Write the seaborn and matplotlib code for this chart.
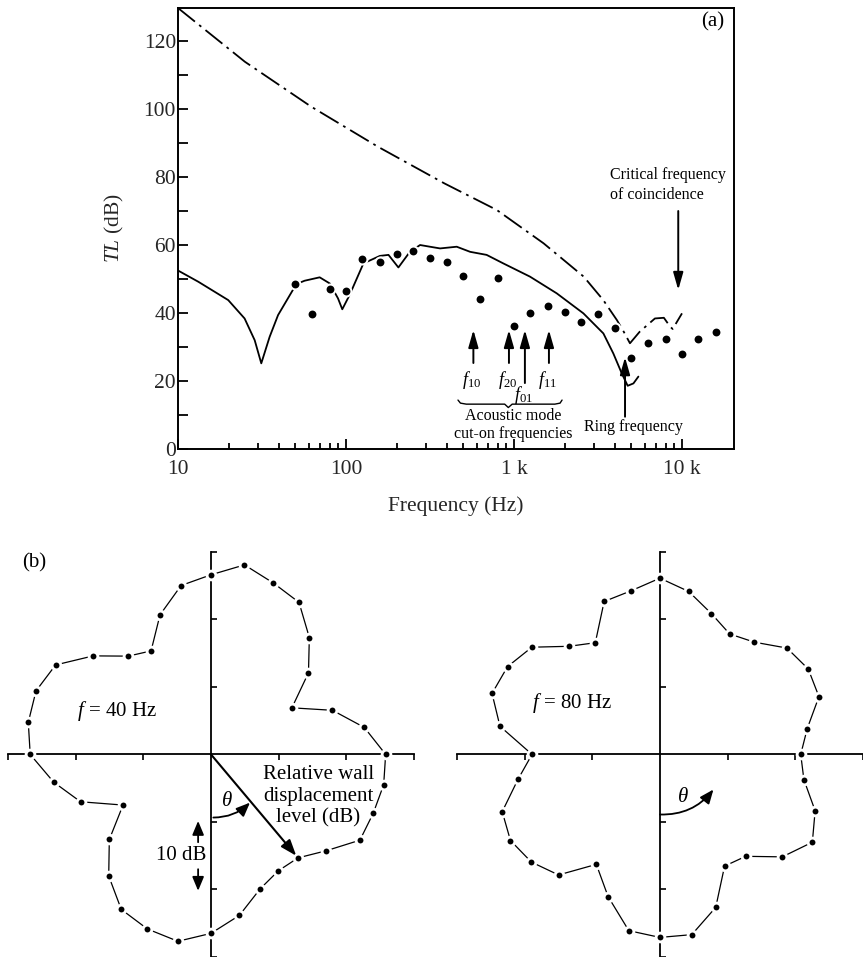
import numpy as np
import pandas as pd
import matplotlib
matplotlib.use("Agg")
import matplotlib.pyplot as plt
import seaborn as sns
from matplotlib.ticker import FixedLocator, NullFormatter

# ----------------------------
# (a) transmission loss data
# ----------------------------
freq_theory = [10, 13.2, 19.9, 24.9, 28.6, 31.3, 35.1, 39.4, 50.6, 56.7, 69.7, 80, 89.6, 95,
               105, 127, 159, 179, 205, 240, 276, 316, 363, 456, 548, 687, 863, 1245, 1795,
               2589, 3404, 3902, 4375, 4750, 5140, 5500]
tl_theory = [52.5, 49.2, 43.8, 38.4, 32.0, 25.2, 33.0, 39.4, 48.5, 49.5, 50.5, 48.7, 44.3, 41.1,
             45.3, 54.6, 56.8, 57.1, 53.4, 58.0, 60.0, 59.5, 59.0, 59.5, 58.0, 57.1, 54.6, 50.7,
             45.8, 39.9, 34.0, 28.1, 22.3, 18.6, 19.3, 21.3]

freq_mass = [10, 25, 62, 155, 386, 790, 1500, 2600, 3400, 4100, 4500, 4900, 5600, 6900,
             7800, 8500, 8800, 10000]
tl_mass = [129.7, 113.9, 100.7, 88.9, 78.1, 70.3, 60.5, 50.7, 43.8, 37.9, 34.5, 31.1, 34.5,
           38.4, 38.6, 36.0, 35.3, 39.9]

freq_meas = [50, 63, 80, 100, 125, 160, 200, 250, 315, 400, 500, 630, 800, 1000, 1250, 1600,
             2000, 2500, 3150, 4000, 5000, 6300, 8000, 10000, 12500, 16000]
tl_meas = [48.5, 39.6, 47.1, 46.5, 55.9, 55.1, 57.4, 58.2, 56.3, 55.1, 51.0, 44.1, 50.2, 36.3,
           39.9, 42.2, 40.2, 37.3, 39.6, 35.7, 26.9, 31.3, 32.3, 27.9, 32.3, 34.5]

cuton_freqs = [573, 933, 1161, 1614]
cuton_labels = [r"$f_{10}$", r"$f_{20}$", r"$f_{01}$", r"$f_{11}$"]
ring_freq = 4580
crit_freq = 9500

# ----------------------------
# (b) wall displacement patterns, theta from bottom, counter-clockwise
# ----------------------------
theta_deg = list(range(0, 360, 10))
level_40 = [26.5, 24.2, 21.2, 19.9, 20.0, 22.2, 25.4, 25.5, 25.9, 25.8, 23.0, 19.1, 13.8, 18.8,
            22.6, 26.0, 27.0, 28.5, 26.6, 25.4, 22.0, 17.7, 19.0, 22.7, 26.5, 27.5, 27.4, 26.7,
            23.6, 20.5, 15.0, 19.6, 23.5, 26.5, 27.5, 28.1]
level_80 = [27.1, 27.1, 24.1, 19.1, 19.7, 23.6, 26.0, 24.4, 21.6, 20.8, 22.1, 25.0, 25.3, 24.5,
            21.7, 20.6, 22.2, 24.5, 26.1, 24.6, 24.1, 19.1, 20.9, 24.7, 26.0, 26.4, 24.0, 18.9,
            21.3, 24.8, 25.5, 24.8, 23.3, 18.8, 22.4, 26.5]

sns.set_style("ticks")
plt.rcParams["font.family"] = ["Liberation Serif", "DejaVu Serif"]
plt.rcParams["mathtext.fontset"] = "custom"
plt.rcParams["mathtext.rm"] = "Liberation Serif"
plt.rcParams["mathtext.it"] = "Liberation Serif:italic"
plt.rcParams["mathtext.bf"] = "Liberation Serif:bold"
plt.rcParams["text.color"] = "black"

fig = plt.figure(figsize=(8.63, 9.57), dpi=100)

# ----------------------------
# top panel
# ----------------------------
ax = fig.add_axes([0.2063, 0.5308, 0.6443, 0.4608])
ax.set_xscale("log")

sns.lineplot(x=freq_mass, y=tl_mass, ax=ax, color="k", lw=1.3,
             linestyle=(0, (12, 3, 1.5, 3)), estimator=None)
sns.lineplot(x=freq_theory, y=tl_theory, ax=ax, color="k", lw=1.3, estimator=None)
sns.scatterplot(x=freq_meas, y=tl_meas, ax=ax, color="white", s=75, linewidth=0, zorder=3)
sns.scatterplot(x=freq_meas, y=tl_meas, ax=ax, color="k", s=32, linewidth=0, zorder=4)

ax.set_xlim(10, 10 ** 4.31)
ax.set_ylim(0, 129.7)
ax.xaxis.set_major_locator(FixedLocator([10, 100, 1000, 10000]))
ax.set_xticklabels(["10", "100", "1 k", "10 k"])
minors = [m * d for d in (10, 100, 1000) for m in range(2, 10)]
ax.xaxis.set_minor_locator(FixedLocator(minors))
ax.xaxis.set_minor_formatter(NullFormatter())
ax.set_yticks(range(0, 121, 20))
ax.yaxis.set_minor_locator(FixedLocator(range(10, 121, 20)))
ax.tick_params(which="both", direction="in", top=False, right=False, width=1.3,
               labelsize=15.5, color="k")
ax.tick_params(axis="x", which="major", length=7, pad=8)
ax.tick_params(axis="x", which="minor", length=4.5)
ax.tick_params(axis="y", which="both", length=7, pad=1.5)
for s in ax.spines.values():
    s.set_linewidth(1.4)
    s.set_color("k")

ax.set_xlabel("Frequency (Hz)", fontsize=15.5)
ax.set_ylabel(r"$TL$ (dB)", fontsize=15.5)
ax.xaxis.set_label_coords(0.5, -0.108)
ax.yaxis.set_label_coords(-0.094, 0.5)

ax.text(0.962, 0.968, "(a)", transform=ax.transAxes, fontsize=15, ha="center", va="center")

arrow_kw = dict(arrowstyle="-|>,head_length=0.7,head_width=0.2", color="k", lw=1.4,
                mutation_scale=15, shrinkA=0, shrinkB=0)
for f, lab in zip(cuton_freqs, cuton_labels):
    tail = 19.4 if lab == r"$f_{01}$" else 25.3
    ax.annotate("", xy=(f, 35.0), xytext=(f, tail), arrowprops=arrow_kw)
    ly = 16.0 if lab == r"$f_{01}$" else 20.3
    ax.text(f * 0.98, ly, lab, fontsize=13, ha="center", va="center")

brace_f = [464, 480, 520, 880, 925, 975, 1750, 1880, 1932]
brace_y = [14.4, 13.5, 13.2, 13.2, 12.2, 13.2, 13.2, 13.5, 14.4]
ax.plot(brace_f, brace_y, color="k", lw=1.0)
ax.text(986, 9.7, "Acoustic mode", fontsize=11.5, ha="center", va="center")
ax.text(986, 4.4, "cut-on frequencies", fontsize=11.5, ha="center", va="center")

ax.annotate("", xy=(ring_freq, 27.0), xytext=(ring_freq, 9.5), arrowprops=arrow_kw)
ax.text(5110, 6.5, "Ring frequency", fontsize=11.5, ha="center", va="center")

ax.annotate("", xy=(crit_freq, 46.8), xytext=(crit_freq, 70.0), arrowprops=arrow_kw)
ax.text(3728, 80.6, "Critical frequency", fontsize=11.5, ha="left", va="center")
ax.text(3728, 74.7, "of coincidence", fontsize=11.5, ha="left", va="center")

# ----------------------------
# bottom panels
# ----------------------------
def pattern_df(levels):
    th = np.deg2rad(theta_deg + [theta_deg[0]])
    r = np.array(levels + [levels[0]])
    return pd.DataFrame({"x": r * np.sin(th), "y": -r * np.cos(th)})


axl = fig.add_axes([0.00127, 0.0, 0.4864, 0.4269])
axr = fig.add_axes([0.5255, 0.0, 0.4745, 0.4269])
axl.set_xlim(-31, 31)
axr.set_xlim(-30.5, 30.0)
for a in (axl, axr):
    a.set_ylim(-29.84, 30.5)
    a.patch.set_alpha(0)
    a.spines["top"].set_visible(False)
    a.spines["right"].set_visible(False)
    a.spines["left"].set_position(("data", 0))
    a.spines["bottom"].set_position(("data", 0))
    a.spines["left"].set_bounds(-30, 30)
    a.spines["bottom"].set_bounds(-30, 30)
    for s in ("left", "bottom"):
        a.spines[s].set_linewidth(1.3)
        a.spines[s].set_color("k")
    a.set_xticks([-30, -20, -10, 10, 20, 30])
    a.set_yticks([-30, -20, -10, 10, 20, 30])
    a.tick_params(axis="x", direction="out", length=4.5, width=1.2, labelbottom=False, color="k")
    a.tick_params(axis="y", direction="in", length=4.5, width=1.2, labelleft=False, color="k")

for a, lv in ((axl, level_40), (axr, level_80)):
    d = pattern_df(lv)
    sns.lineplot(data=d, x="x", y="y", ax=a, sort=False, estimator=None, color="k", lw=0.9)
    pts = d.iloc[:-1]
    sns.scatterplot(data=pts, x="x", y="y", ax=a, color="white", s=70, linewidth=0, zorder=3)
    sns.scatterplot(data=pts, x="x", y="y", ax=a, color="k", s=18, linewidth=0, zorder=4)
    a.set_xlabel("")
    a.set_ylabel("")

axl.text(-19.8, 6.4, r"$f$ = 40 Hz", fontsize=15, ha="left", va="center")
axr.text(-18.95, 7.6, r"$f$ = 80 Hz", fontsize=15, ha="left", va="center")

# arrow to the 40 degree point
d40 = pattern_df(level_40)
axl.annotate("", xy=(d40.x[4], d40.y[4]), xytext=(0, 0),
             arrowprops=dict(arrowstyle="-|>,head_length=0.6,head_width=0.22", color="k",
                             lw=1.5, mutation_scale=16, shrinkA=0, shrinkB=2))
axl.text(15.85, -6.2, "Relative wall\ndisplacement\nlevel (dB)", fontsize=15,
         ha="center", va="center", linespacing=1.2, multialignment="center")

arc_kw = dict(arrowstyle="-|>,head_length=0.6,head_width=0.25", color="k", lw=1.3,
              mutation_scale=14, shrinkA=0, shrinkB=0)
axl.annotate("", xy=(5.76, -7.14), xytext=(0.35, -9.35),
             arrowprops=dict(connectionstyle="arc3,rad=0.2", **arc_kw))
axl.text(2.3, -6.9, r"$\theta$", fontsize=15, ha="center", va="center")
axr.annotate("", xy=(7.9, -5.2), xytext=(0.0, -8.9),
             arrowprops=dict(connectionstyle="arc3,rad=0.25", **arc_kw))
axr.text(3.45, -6.4, r"$\theta$", fontsize=15, ha="center", va="center")

# 10 dB scale
axl.annotate("", xy=(-1.9, -9.85), xytext=(-1.9, -13.0), arrowprops=arc_kw)
axl.annotate("", xy=(-1.9, -20.2), xytext=(-1.9, -17.0), arrowprops=arc_kw)
axl.text(-4.4, -15.0, "10 dB", fontsize=15, ha="center", va="center")

fig.text(0.0255, 0.4117, "(b)", fontsize=15, ha="left", va="center")

fig.savefig("out.png", dpi=100)
